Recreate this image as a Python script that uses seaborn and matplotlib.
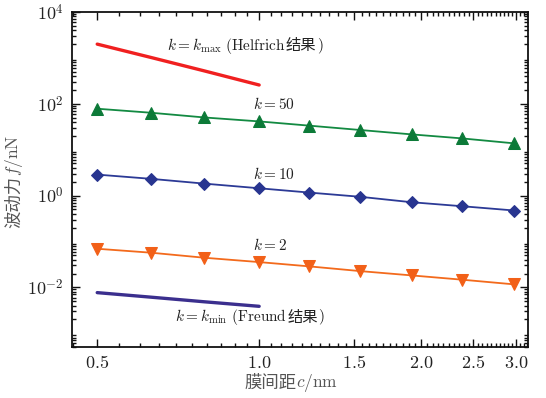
import numpy as np
import pandas as pd
import matplotlib
matplotlib.use('Agg')
import matplotlib.pyplot as plt
import matplotlib.ticker as mticker
from matplotlib.transforms import offset_copy
import seaborn as sns

# Data (log-log)
c_long = [0.5, 0.63, 0.79, 1.0, 1.24, 1.54, 1.92, 2.38, 2.98]
c_short = [0.5, 0.63, 0.79, 1.0]

f_kmax = [1990, 1016, 521, 256]
f_k50 = [77.9, 63.6, 50.3, 41.2, 33.3, 26.8, 21.5, 17.6, 13.7]
f_k10 = [2.86, 2.31, 1.82, 1.44, 1.16, 0.94, 0.715, 0.586, 0.472]
f_k2 = [0.0693, 0.0568, 0.0442, 0.0355, 0.0286, 0.0226, 0.0182, 0.0147, 0.0116]
f_kmin = [0.00767, 0.0061, 0.00485, 0.00386]

x_ticks = [0.5, 1.0, 1.5, 2.0, 2.5, 3.0]
y_ticks = [1e-2, 1e0, 1e2, 1e4]

sns.set_theme(style='ticks')
plt.rcParams['mathtext.fontset'] = 'cm'
plt.rcParams['font.family'] = ['Liberation Serif', 'Noto Sans CJK SC']
cjk = ['Noto Sans CJK SC', 'DejaVu Sans']

fig = plt.figure(figsize=(5.46, 3.98), dpi=100)
ax = fig.add_axes([0.132, 0.128, 0.835, 0.842])

sns.lineplot(x=c_short, y=f_kmax, color='#f02020', lw=2.4, ax=ax)
sns.lineplot(x=c_long, y=f_k50, color='#138a42', lw=1.3, marker='^', markersize=8,
             markeredgecolor='#0c7a38', markerfacecolor='#0c7a38', ax=ax)
sns.lineplot(x=c_long, y=f_k10, color='#2c3a96', lw=1.3, marker='D', markersize=6.5,
             markeredgecolor='#283590', markerfacecolor='#283590', ax=ax)
sns.lineplot(x=c_long, y=f_k2, color='#f36a1c', lw=1.3, marker='v', markersize=8,
             markeredgecolor='#f26018', markerfacecolor='#f26018', ax=ax)
sns.lineplot(x=c_short, y=f_kmin, color='#3b2f8e', lw=2.4, ax=ax)

ax.set_xscale('log')
ax.set_yscale('log')
ax.set_xlim(0.449, 3.16)
ax.set_ylim(5e-4, 1e4)

ax.xaxis.set_major_locator(mticker.FixedLocator(x_ticks))
ax.xaxis.set_minor_locator(mticker.MultipleLocator(0.05))
ax.xaxis.set_major_formatter(mticker.FuncFormatter(lambda v, p: r'$%.1f$' % v))
ax.xaxis.set_minor_formatter(mticker.NullFormatter())

ax.yaxis.set_major_locator(mticker.FixedLocator(y_ticks))
ax.yaxis.set_minor_locator(mticker.LogLocator(base=10, subs=np.arange(2, 10), numticks=20))
ax.yaxis.set_major_formatter(mticker.FuncFormatter(lambda v, p: r'$10^{%d}$' % round(np.log10(v))))
ax.yaxis.set_minor_formatter(mticker.NullFormatter())

ax.tick_params(which='both', direction='in', top=True, right=True, color='#111', width=1.0)
ax.tick_params(which='major', length=6, labelsize=13, labelcolor='#222', pad=6)
ax.tick_params(which='minor', length=3)
for s in ax.spines.values():
    s.set_linewidth(1.3)
    s.set_color('#111')


# write text pieces one after another (mathtext can't show CJK glyphs)
def put_pieces(x, y, pieces, transform, rotation=0, **kw):
    fig.canvas.draw()
    r = fig.canvas.get_renderer()
    tr = transform
    for s, props in pieces:
        t = fig.text(x, y, s, transform=tr, rotation=rotation, rotation_mode='anchor', **kw, **props)
        bb = t.get_window_extent(renderer=r)
        if rotation == 0:
            tr = offset_copy(tr, fig=fig, x=bb.width, y=0, units='dots')
        else:
            tr = offset_copy(tr, fig=fig, x=0, y=bb.height, units='dots')


lab_col = '#555'
put_pieces(244 / 546, 1 - 383 / 398, [('膜间距', dict(family=cjk)), (r'$c/\rm nm$', {})],
           fig.transFigure, fontsize=12.5, color=lab_col, va='center', ha='left')
put_pieces(14 / 546, 1 - 228 / 398, [('波动力', dict(family=cjk)), (r'$f/\rm nN$', {})],
           fig.transFigure, rotation=90, fontsize=12.5, color=lab_col, va='center', ha='left')

txt_col = '#222'
put_pieces(0.675, 1820, [(r'$k=k_{\rm max}\ {\rm (Helfrich}$', {}), ('结果', dict(family=cjk)),
                         (r'$)$', {})], ax.transData, fontsize=11, color=txt_col, va='center', ha='left')
put_pieces(0.698, 0.00223, [(r'$k=k_{\rm min}\ {\rm (Freund}$', {}), ('结果', dict(family=cjk)),
                            (r'$)$', {})], ax.transData, fontsize=11, color=txt_col, va='center', ha='left')
ax.text(0.975, 100, r'$k=50$', fontsize=11, va='center', ha='left', color=txt_col)
ax.text(0.975, 3.0, r'$k=10$', fontsize=11, va='center', ha='left', color=txt_col)
ax.text(0.975, 0.082, r'$k=2$', fontsize=11, va='center', ha='left', color=txt_col)

fig.savefig('out.png', dpi=100)
